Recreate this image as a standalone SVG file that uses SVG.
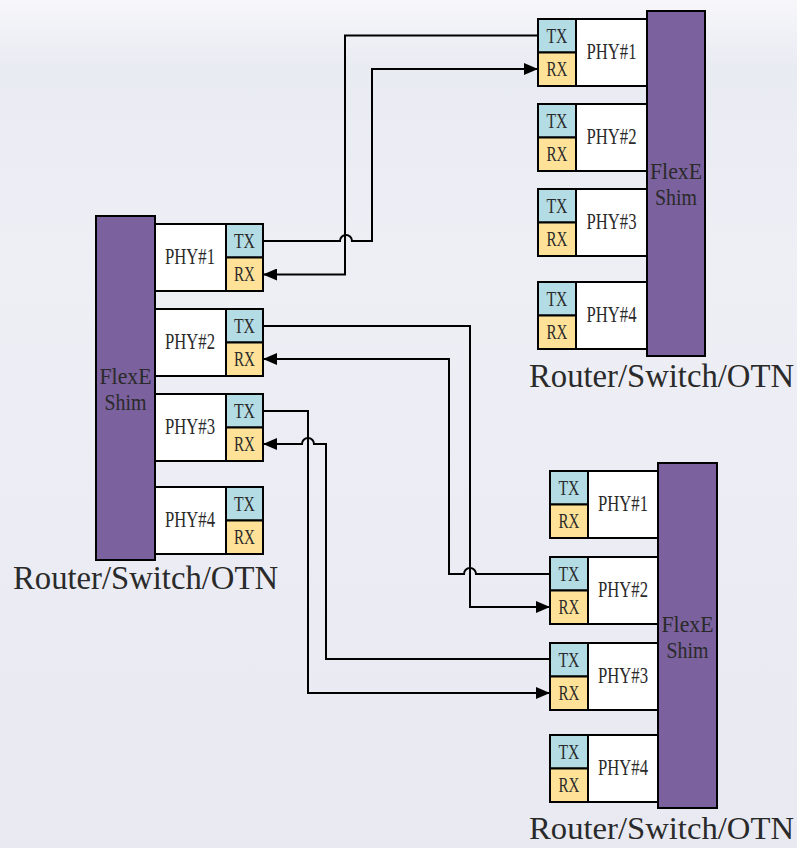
<svg xmlns="http://www.w3.org/2000/svg" width="797" height="848" viewBox="0 0 797 848">
<defs>
<linearGradient id="bg" x1="0" y1="0" x2="0" y2="1">
<stop offset="0" stop-color="#F7F7FA"/>
<stop offset="0.08" stop-color="#E9EBF3"/>
<stop offset="0.3" stop-color="#EEEFF5"/>
<stop offset="0.6" stop-color="#ECEDF4"/>
<stop offset="1" stop-color="#E8E9F1"/>
</linearGradient>
<marker id="arr" markerUnits="userSpaceOnUse" markerWidth="14" markerHeight="12" refX="14" refY="6" orient="auto">
<path d="M0,0 L14,6 L0,12 Z" fill="#000"/>
</marker>
</defs>
<style>
.shim{fill:#7B619D;stroke:#000;stroke-width:2}
.phy{fill:#FFFFFF;stroke:#000;stroke-width:2}
.tx{fill:#B3DCE5;stroke:#000;stroke-width:2}
.rx{fill:#FFE298;stroke:#000;stroke-width:2}
text{font-family:"Liberation Serif","Times New Roman",serif;fill:#2a2a2a}
.lbl{font-size:23px;text-anchor:middle}
.sm{font-size:20px;text-anchor:middle}
.big{font-size:33px}
.con{fill:none;stroke:#000;stroke-width:2}
</style>
<rect x="0" y="0" width="797" height="848" fill="url(#bg)"/>

<g id="device-left">
<rect class="shim" x="96" y="216" width="59" height="344"/>
<text class="lbl" x="125.5" y="384" textLength="52" lengthAdjust="spacingAndGlyphs">FlexE</text>
<text class="lbl" x="125.5" y="410" textLength="42" lengthAdjust="spacingAndGlyphs">Shim</text>
<text class="big" x="13" y="589" textLength="265" lengthAdjust="spacingAndGlyphs">Router/Switch/OTN</text>
</g>
<g id="left-phy1">
<rect class="phy" x="155" y="224" width="71" height="67"/>
<rect class="tx" x="226" y="224" width="37" height="33.5"/>
<rect class="rx" x="226" y="257.5" width="37" height="33.5"/>
<text class="lbl" x="190" y="264" textLength="50" lengthAdjust="spacingAndGlyphs">PHY#1</text>
<text class="sm" x="244.5" y="248" textLength="21" lengthAdjust="spacingAndGlyphs">TX</text>
<text class="sm" x="244.5" y="281" textLength="21" lengthAdjust="spacingAndGlyphs">RX</text>
</g>
<g id="left-phy2">
<rect class="phy" x="155" y="309" width="71" height="67"/>
<rect class="tx" x="226" y="309" width="37" height="33.5"/>
<rect class="rx" x="226" y="342.5" width="37" height="33.5"/>
<text class="lbl" x="190" y="349" textLength="50" lengthAdjust="spacingAndGlyphs">PHY#2</text>
<text class="sm" x="244.5" y="333" textLength="21" lengthAdjust="spacingAndGlyphs">TX</text>
<text class="sm" x="244.5" y="366" textLength="21" lengthAdjust="spacingAndGlyphs">RX</text>
</g>
<g id="left-phy3">
<rect class="phy" x="155" y="394" width="71" height="67"/>
<rect class="tx" x="226" y="394" width="37" height="33.5"/>
<rect class="rx" x="226" y="427.5" width="37" height="33.5"/>
<text class="lbl" x="190" y="434" textLength="50" lengthAdjust="spacingAndGlyphs">PHY#3</text>
<text class="sm" x="244.5" y="418" textLength="21" lengthAdjust="spacingAndGlyphs">TX</text>
<text class="sm" x="244.5" y="451" textLength="21" lengthAdjust="spacingAndGlyphs">RX</text>
</g>
<g id="left-phy4">
<rect class="phy" x="155" y="487" width="71" height="67"/>
<rect class="tx" x="226" y="487" width="37" height="33.5"/>
<rect class="rx" x="226" y="520.5" width="37" height="33.5"/>
<text class="lbl" x="190" y="527" textLength="50" lengthAdjust="spacingAndGlyphs">PHY#4</text>
<text class="sm" x="244.5" y="511" textLength="21" lengthAdjust="spacingAndGlyphs">TX</text>
<text class="sm" x="244.5" y="544" textLength="21" lengthAdjust="spacingAndGlyphs">RX</text>
</g>

<g id="device-top-right">
<rect class="shim" x="647" y="11" width="58" height="345"/>
<text class="lbl" x="676" y="179" textLength="52" lengthAdjust="spacingAndGlyphs">FlexE</text>
<text class="lbl" x="676" y="205" textLength="42" lengthAdjust="spacingAndGlyphs">Shim</text>
<text class="big" x="529" y="387" textLength="265" lengthAdjust="spacingAndGlyphs">Router/Switch/OTN</text>
</g>
<g id="tr-phy1">
<rect class="phy" x="576" y="19" width="71" height="67"/>
<rect class="tx" x="538" y="19" width="38" height="33.5"/>
<rect class="rx" x="538" y="52.5" width="38" height="33.5"/>
<text class="lbl" x="611.5" y="59" textLength="50" lengthAdjust="spacingAndGlyphs">PHY#1</text>
<text class="sm" x="557" y="43" textLength="21" lengthAdjust="spacingAndGlyphs">TX</text>
<text class="sm" x="557" y="76" textLength="21" lengthAdjust="spacingAndGlyphs">RX</text>
</g>
<g id="tr-phy2">
<rect class="phy" x="576" y="104" width="71" height="67"/>
<rect class="tx" x="538" y="104" width="38" height="33.5"/>
<rect class="rx" x="538" y="137.5" width="38" height="33.5"/>
<text class="lbl" x="611.5" y="144" textLength="50" lengthAdjust="spacingAndGlyphs">PHY#2</text>
<text class="sm" x="557" y="128" textLength="21" lengthAdjust="spacingAndGlyphs">TX</text>
<text class="sm" x="557" y="161" textLength="21" lengthAdjust="spacingAndGlyphs">RX</text>
</g>
<g id="tr-phy3">
<rect class="phy" x="576" y="189" width="71" height="67"/>
<rect class="tx" x="538" y="189" width="38" height="33.5"/>
<rect class="rx" x="538" y="222.5" width="38" height="33.5"/>
<text class="lbl" x="611.5" y="229" textLength="50" lengthAdjust="spacingAndGlyphs">PHY#3</text>
<text class="sm" x="557" y="213" textLength="21" lengthAdjust="spacingAndGlyphs">TX</text>
<text class="sm" x="557" y="246" textLength="21" lengthAdjust="spacingAndGlyphs">RX</text>
</g>
<g id="tr-phy4">
<rect class="phy" x="576" y="282" width="71" height="67"/>
<rect class="tx" x="538" y="282" width="38" height="33.5"/>
<rect class="rx" x="538" y="315.5" width="38" height="33.5"/>
<text class="lbl" x="611.5" y="322" textLength="50" lengthAdjust="spacingAndGlyphs">PHY#4</text>
<text class="sm" x="557" y="306" textLength="21" lengthAdjust="spacingAndGlyphs">TX</text>
<text class="sm" x="557" y="339" textLength="21" lengthAdjust="spacingAndGlyphs">RX</text>
</g>

<g id="device-bottom-right">
<rect class="shim" x="658" y="463" width="59" height="345"/>
<text class="lbl" x="687.5" y="632" textLength="52" lengthAdjust="spacingAndGlyphs">FlexE</text>
<text class="lbl" x="687.5" y="658" textLength="42" lengthAdjust="spacingAndGlyphs">Shim</text>
<text x="529" y="839" font-size="31" textLength="265" lengthAdjust="spacingAndGlyphs">Router/Switch/OTN</text>
</g>
<g id="br-phy1">
<rect class="phy" x="588" y="471" width="70" height="67"/>
<rect class="tx" x="550" y="471" width="38" height="33.5"/>
<rect class="rx" x="550" y="504.5" width="38" height="33.5"/>
<text class="lbl" x="623" y="511" textLength="50" lengthAdjust="spacingAndGlyphs">PHY#1</text>
<text class="sm" x="569" y="495" textLength="21" lengthAdjust="spacingAndGlyphs">TX</text>
<text class="sm" x="569" y="528" textLength="21" lengthAdjust="spacingAndGlyphs">RX</text>
</g>
<g id="br-phy2">
<rect class="phy" x="588" y="557" width="70" height="67"/>
<rect class="tx" x="550" y="557" width="38" height="33.5"/>
<rect class="rx" x="550" y="590.5" width="38" height="33.5"/>
<text class="lbl" x="623" y="597" textLength="50" lengthAdjust="spacingAndGlyphs">PHY#2</text>
<text class="sm" x="569" y="581" textLength="21" lengthAdjust="spacingAndGlyphs">TX</text>
<text class="sm" x="569" y="614" textLength="21" lengthAdjust="spacingAndGlyphs">RX</text>
</g>
<g id="br-phy3">
<rect class="phy" x="588" y="643" width="70" height="67"/>
<rect class="tx" x="550" y="643" width="38" height="33.5"/>
<rect class="rx" x="550" y="676.5" width="38" height="33.5"/>
<text class="lbl" x="623" y="683" textLength="50" lengthAdjust="spacingAndGlyphs">PHY#3</text>
<text class="sm" x="569" y="667" textLength="21" lengthAdjust="spacingAndGlyphs">TX</text>
<text class="sm" x="569" y="700" textLength="21" lengthAdjust="spacingAndGlyphs">RX</text>
</g>
<g id="br-phy4">
<rect class="phy" x="588" y="735" width="70" height="67"/>
<rect class="tx" x="550" y="735" width="38" height="33.5"/>
<rect class="rx" x="550" y="768.5" width="38" height="33.5"/>
<text class="lbl" x="623" y="775" textLength="50" lengthAdjust="spacingAndGlyphs">PHY#4</text>
<text class="sm" x="569" y="759" textLength="21" lengthAdjust="spacingAndGlyphs">TX</text>
<text class="sm" x="569" y="792" textLength="21" lengthAdjust="spacingAndGlyphs">RX</text>
</g>

<g id="connectors">
<path class="con" marker-end="url(#arr)" d="M263,241 H340 A6,6 0 0 1 352,241 H372 V69 H538"/>
<path class="con" marker-end="url(#arr)" d="M538,35.5 H345 V274.5 H263"/>
<path class="con" marker-end="url(#arr)" d="M263,326 H470 V607 H550"/>
<path class="con" marker-end="url(#arr)" d="M550,574 H476 A6,6 0 0 0 464,574 H449 V359 H263"/>
<path class="con" marker-end="url(#arr)" d="M263,411 H308 V693 H550"/>
<path class="con" marker-end="url(#arr)" d="M550,659 H326 V444 H314 A6,6 0 0 0 302,444 H263"/>
</g>
</svg>
